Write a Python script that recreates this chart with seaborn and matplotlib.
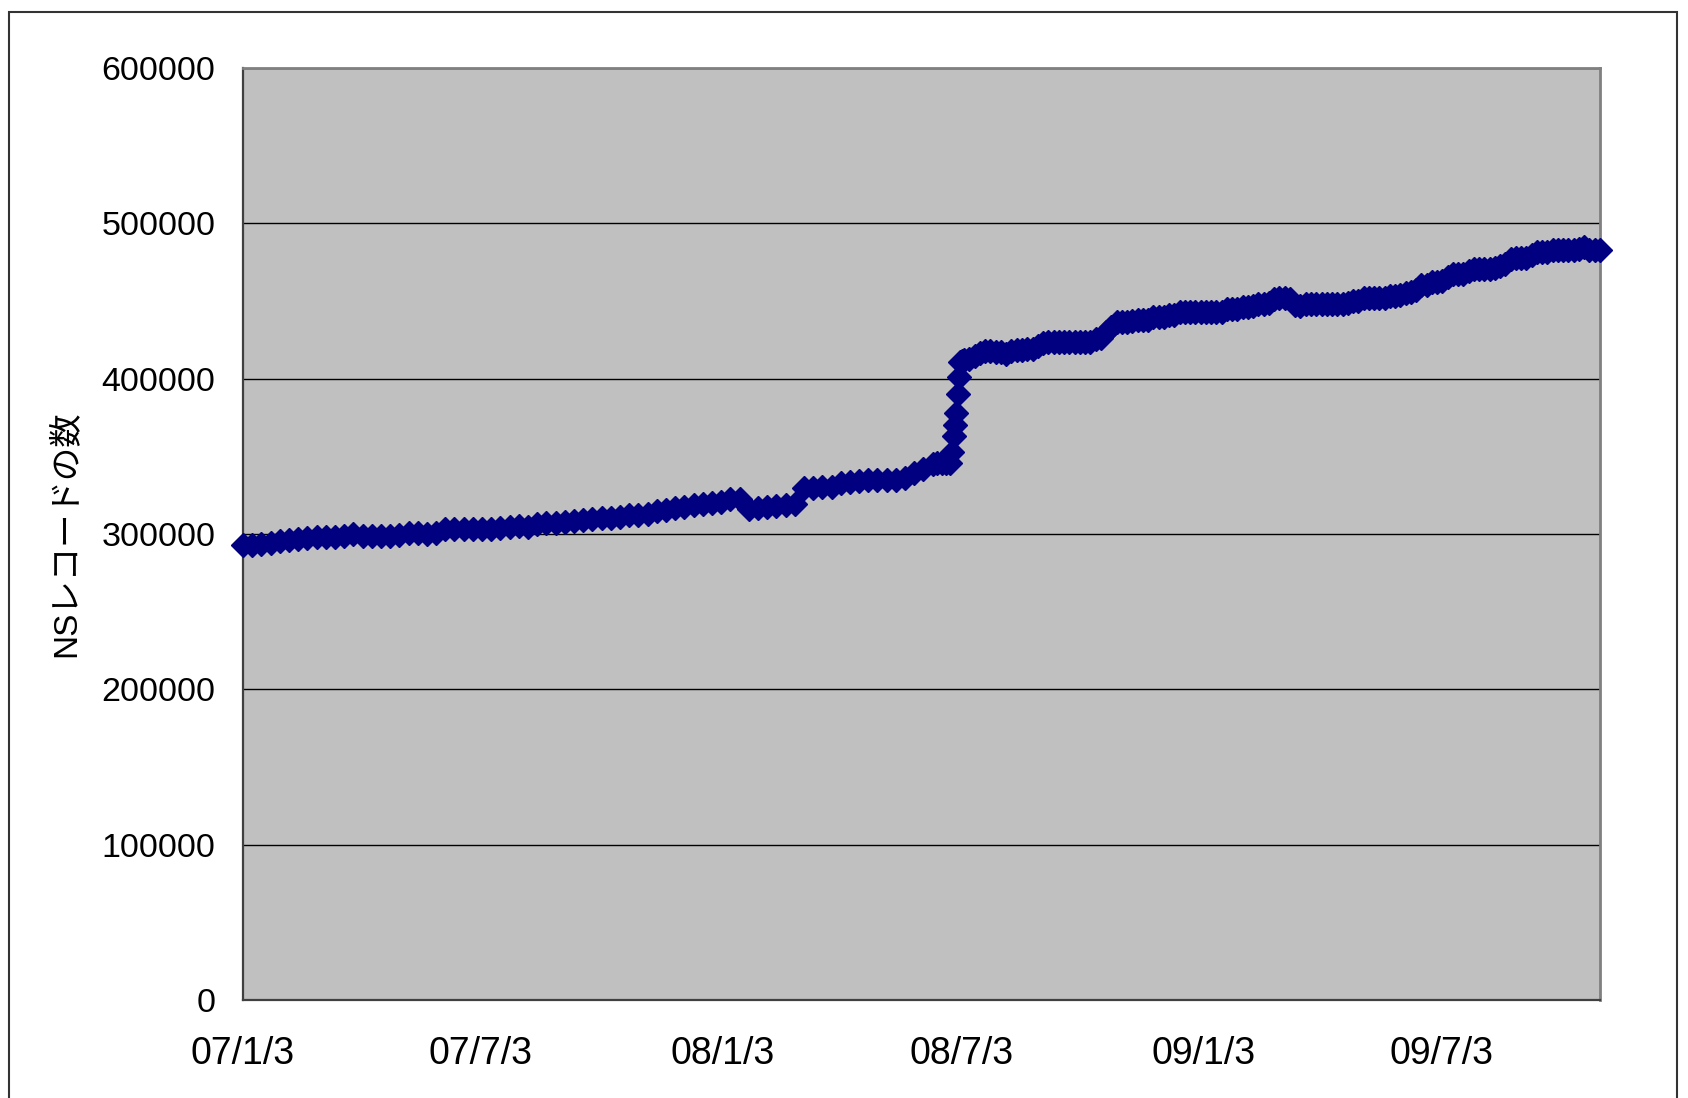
import seaborn as sns
import matplotlib.pyplot as plt
import matplotlib.patches as patches
import pandas as pd

# weekly counts, 2007-01-03 .. 2008-06-11
weekly_start = "2007-01-03"
weekly_values = [
    293000, 293200, 293500, 294500, 295500, 296000, 297000, 297500, 298000, 298000,
    298200, 298500, 300000, 298800, 298500, 298500, 299000, 299500, 300500, 300500,
    300000, 300500, 303000, 303300, 303300, 303500, 303500, 303500, 304000, 304500,
    305000, 304800, 306500, 307000, 307000, 307500, 308500, 309000, 309500, 310000,
    310000, 311000, 312000, 312500, 313000, 314500, 315500, 316500, 317500, 318500,
    319500, 320000, 320500, 322500, 322500, 316000, 316500, 317500, 318000, 318500,
    319500, 329500, 329500, 330000, 330000, 333000, 333500, 334000, 334500, 334500,
    335000, 335000, 336000, 339000, 342000, 345000,
]

# the jump around the start of July 2008
jump_dates = [
    "2008-06-14", "2008-06-18", "2008-06-21", "2008-06-24", "2008-06-26", "2008-06-27",
    "2008-06-28", "2008-06-29", "2008-06-30", "2008-07-01", "2008-07-02", "2008-07-03",
]
jump_values = [
    345500, 345800, 346000, 346000, 353000, 362800,
    370300, 377800, 390000, 401000, 411000, 411500,
]

# every 4 days, 2008-07-05 .. 2009-10-31
late_start = "2008-07-05"
late_values = [
    412000, 412500, 414500, 416500, 418000, 417500, 417000, 417000, 416000, 417500,
    418500, 418500, 418800, 419000, 421000, 423000, 423500, 423500, 423500, 423500,
    423500, 423500, 423500, 423500, 423800, 425500, 426000, 430000, 433500, 436500,
    436800, 436800, 437000, 437900, 438000, 438000, 439500, 439700, 439700, 441100,
    441200, 442900, 442900, 443000, 443000, 443000, 443000, 443000, 443000, 443000,
    444600, 444600, 444800, 446300, 446300, 446500, 448000, 448000, 449000, 451500,
    452000, 452000, 451500, 447500, 446500, 448000, 448000, 448000, 448000, 448000,
    448000, 448000, 448200, 448500, 449700, 450000, 451900, 451900, 452000, 452000,
    452200, 453300, 453400, 454000, 455300, 455500, 457000, 460000, 460300, 462200,
    462300, 463000, 465500, 467100, 467100, 467300, 469000, 470800, 470800, 470800,
    470800, 471000, 472500, 474000, 477000, 477600, 477600, 477800, 479500, 481500,
    481500, 481600, 483000, 483000, 483000, 483000, 483000, 483200, 484500, 483000,
    483000, 483000,
]

tick_dates = ["2007-01-03", "2007-07-03", "2008-01-03", "2008-07-03", "2009-01-03", "2009-07-03"]
tick_labels = ["07/1/3", "07/7/3", "08/1/3", "08/7/3", "09/1/3", "09/7/3"]
y_ticks = [0, 100000, 200000, 300000, 400000, 500000, 600000]

df = pd.concat([
    pd.DataFrame({"date": pd.date_range(weekly_start, periods=len(weekly_values), freq="7D"),
                  "count": weekly_values}),
    pd.DataFrame({"date": pd.to_datetime(jump_dates), "count": jump_values}),
    pd.DataFrame({"date": pd.date_range(late_start, periods=len(late_values), freq="4D"),
                  "count": late_values}),
], ignore_index=True)

sns.set_theme(style="white")
plt.rcParams['font.family'] = ['Liberation Sans', 'Noto Sans CJK JP', 'DejaVu Sans']
plt.rcParams['text.color'] = 'black'
plt.rcParams['axes.labelcolor'] = 'black'
plt.rcParams['xtick.labelcolor'] = 'black'
plt.rcParams['ytick.labelcolor'] = 'black'

fig = plt.figure(figsize=(16.88, 10.98), dpi=100)
ax = fig.add_axes([243 / 1688, 1 - 1000 / 1098, 1357 / 1688, 932 / 1098])
ax.set_facecolor('#C0C0C0')

navy = '#000080'
sns.lineplot(data=df, x="date", y="count", ax=ax, color=navy, linewidth=3,
             marker='D', markersize=12.5, markeredgecolor=navy, markeredgewidth=1,
             clip_on=False, zorder=5)

ax.set_xlim(df["date"].min(), df["date"].max())
ax.set_ylim(0, 600000)
ax.set_yticks(y_ticks)
ax.set_yticklabels([str(v) for v in y_ticks], fontsize=24.5)
ax.set_xticks(pd.to_datetime(tick_dates))
ax.set_xticklabels(tick_labels, fontsize=27)
ax.tick_params(axis='y', direction='in', length=6, width=1.2, color='#333333', pad=20,
               labelcolor='black')
ax.tick_params(axis='x', direction='in', length=10, width=1.2, color='#333333', pad=26,
               labelcolor='black')
ax.yaxis.grid(True, color='black', linewidth=1)
ax.xaxis.grid(False)

for side in ['left', 'bottom']:
    ax.spines[side].set_color('#404040')
    ax.spines[side].set_linewidth(1.6)
for side in ['top', 'right']:
    ax.spines[side].set_color('#808080')
    ax.spines[side].set_linewidth(2)

ax.set_xlabel('')
ax.set_ylabel('NSレコードの数', fontsize=24, color='black')
ax.yaxis.set_label_coords(-0.119, 0.5)

# chart-area frame
fig.add_artist(patches.Rectangle((9 / 1688, -0.1), (1677 - 9) / 1688, 1.1 - 12 / 1098,
                                 transform=fig.transFigure, fill=False,
                                 edgecolor='#333333', linewidth=1.5))

plt.savefig('out.png', dpi=100)
